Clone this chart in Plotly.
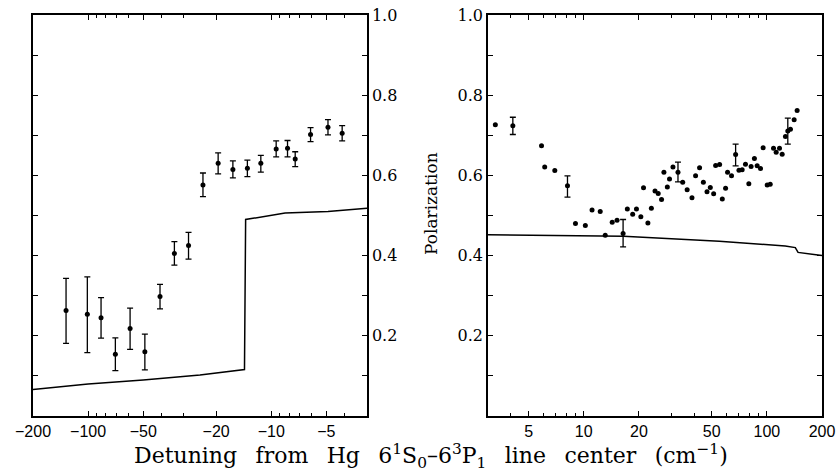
import numpy as np
import plotly.graph_objects as go

# ---------------- data ----------------
# Left panel (negative detuning, cm^-1)
left_x = [-132, -101, -85, -71, -59, -49, -40.5, -33.8, -28.3, -23.6, -19.5, -16.2,
          -13.5, -11.4, -9.4, -8.15, -7.4, -6.1, -4.9, -4.1]
left_y = [0.263, 0.254, 0.245, 0.154, 0.218, 0.160, 0.298, 0.405, 0.425, 0.576, 0.630, 0.615,
          0.618, 0.630, 0.666, 0.668, 0.641, 0.702, 0.720, 0.705]
left_hi = [0.343, 0.347, 0.295, 0.195, 0.269, 0.204, 0.328, 0.435, 0.458, 0.606, 0.656, 0.636,
           0.638, 0.650, 0.686, 0.687, 0.659, 0.719, 0.739, 0.724]
left_lo = [0.181, 0.158, 0.194, 0.113, 0.166, 0.115, 0.267, 0.376, 0.391, 0.547, 0.604, 0.594,
           0.597, 0.608, 0.646, 0.646, 0.622, 0.684, 0.701, 0.686]

left_theory_x = [-200, -100, -50, -24.5, -14.0, -13.8, -8.4, -4.9, -3.0]
left_theory_y = [0.066, 0.080, 0.090, 0.102, 0.116, 0.490, 0.506, 0.510, 0.518]

# Right panel (positive detuning, cm^-1)
right_x = [3.29, 5.88, 6.12, 6.95, 9.01, 10.2, 11.1, 12.3, 13.1, 14.3, 15.2, 17.3, 18.5,
           19.4, 20.5, 21.2, 22.4, 23.4, 24.5, 25.5, 26.6, 27.4, 28.6, 29.4, 30.7, 34.7,
           36.7, 39.0, 40.8, 42.9, 45.0, 47.1, 49.1, 51.2, 52.5, 55.2, 57.1, 59.5, 61.0,
           64.1, 70.4, 73.3, 76.4, 79.7, 82.0, 85.5, 88.5, 92.3, 95.4, 100.4, 104.3, 108.7,
           112.4, 117.2, 121.2, 126.3, 134.5, 140.9, 146.3]
right_y = [0.726, 0.674, 0.621, 0.612, 0.480, 0.475, 0.514, 0.510, 0.451, 0.483, 0.488, 0.516,
           0.503, 0.516, 0.497, 0.569, 0.481, 0.518, 0.561, 0.555, 0.540, 0.608, 0.571, 0.591,
           0.621, 0.583, 0.564, 0.544, 0.599, 0.619, 0.583, 0.559, 0.570, 0.554, 0.625, 0.627,
           0.541, 0.568, 0.608, 0.599, 0.613, 0.614, 0.628, 0.579, 0.622, 0.642, 0.624, 0.617,
           0.669, 0.576, 0.578, 0.668, 0.658, 0.668, 0.653, 0.697, 0.715, 0.739, 0.762]

right_err_x = [4.10, 8.15, 16.4, 32.7, 67.5, 130.1]
right_err_y = [0.724, 0.574, 0.455, 0.608, 0.652, 0.711]
right_err_hi = [0.745, 0.599, 0.490, 0.633, 0.678, 0.743]
right_err_lo = [0.702, 0.546, 0.422, 0.584, 0.624, 0.678]

right_theory_x = [3.0, 10, 16.5, 55, 126, 143, 148, 200]
right_theory_y = [0.452, 0.450, 0.448, 0.436, 0.424, 0.420, 0.408, 0.400]

y_ticks = [0.1, 0.2, 0.3, 0.4, 0.5, 0.6, 0.7, 0.8, 0.9, 1.0]
y_ticktext = ["", "0.2", "", "0.4", "", "0.6", "", "0.8", "", "1.0"]
left_xticks = [200, 100, 50, 20, 10, 5]
left_xticktext = ["\u2212200", "\u2212100", "\u221250", "\u221220", "\u221210", "\u22125"]
right_xticks = [5, 10, 20, 50, 100, 200]
right_xticktext = ["5", "10", "20", "50", "100", "200"]
minor_ticks = [3, 4, 6, 7, 8, 9, 30, 40, 60, 70, 80, 90]

# ---------------- figure ----------------
W, H = 840, 474
ml, mr, mt, mb = 0, 0, 15, 58
fig = go.Figure()

def arr(a):
    return np.asarray(a, dtype=float)

lx = -arr(left_x)
ly = arr(left_y)
fig.add_trace(go.Scatter(
    x=-arr(left_theory_x), y=left_theory_y, mode="lines",
    line=dict(color="black", width=1.5), xaxis="x", yaxis="y", showlegend=False))
fig.add_trace(go.Scatter(
    x=lx, y=ly, mode="markers",
    marker=dict(color="black", size=5),
    error_y=dict(type="data", symmetric=False, array=arr(left_hi) - ly,
                 arrayminus=ly - arr(left_lo), width=3, thickness=1.3, color="black"),
    xaxis="x", yaxis="y", showlegend=False))

ry = arr(right_err_y)
fig.add_trace(go.Scatter(
    x=right_theory_x, y=right_theory_y, mode="lines",
    line=dict(color="black", width=1.5), xaxis="x2", yaxis="y2", showlegend=False))
fig.add_trace(go.Scatter(
    x=right_x, y=right_y, mode="markers",
    marker=dict(color="black", size=5), xaxis="x2", yaxis="y2", showlegend=False))
fig.add_trace(go.Scatter(
    x=right_err_x, y=ry, mode="markers",
    marker=dict(color="black", size=5),
    error_y=dict(type="data", symmetric=False, array=arr(right_err_hi) - ry,
                 arrayminus=ry - arr(right_err_lo), width=3, thickness=1.3, color="black"),
    xaxis="x2", yaxis="y2", showlegend=False))

def px_to_x(p):
    return p / W

common_x = dict(type="log", showgrid=False, zeroline=False, showline=True, linecolor="black",
                linewidth=1.5, mirror="allticks", ticks="inside", ticklen=5, tickwidth=1,
                tickcolor="black", automargin=False,
                tickfont=dict(family="Liberation Sans, Arial, sans-serif", size=16, color="black"),
                minor=dict(tickvals=minor_ticks, ticks="inside", ticklen=3, tickwidth=1,
                           tickcolor="black", showgrid=False))
common_y = dict(range=[0, 1.0], showgrid=False, zeroline=False, showline=True, linecolor="black",
                linewidth=1.5, mirror="allticks", ticks="inside", ticklen=5, tickwidth=1,
                tickcolor="black", tickmode="array", tickvals=y_ticks, ticktext=y_ticktext,
                automargin=False,
                tickfont=dict(family="DejaVu Serif, serif", size=16, color="black"))

fig.update_layout(
    width=W, height=H,
    margin=dict(l=ml, r=mr, t=mt, b=mb, autoexpand=False),
    paper_bgcolor="white", plot_bgcolor="white",
    xaxis=dict(domain=[px_to_x(33), px_to_x(367)],
               range=[np.log10(200), np.log10(3)],
               tickmode="array", tickvals=left_xticks, ticktext=left_xticktext,
               anchor="y", **common_x),
    yaxis=dict(domain=[0, 1], side="right", anchor="x", **common_y),
    xaxis2=dict(domain=[px_to_x(488), px_to_x(822)],
                range=[np.log10(3), np.log10(200)],
                tickmode="array", tickvals=right_xticks, ticktext=right_xticktext,
                anchor="y2", **common_x),
    yaxis2=dict(domain=[0, 1], side="left", anchor="x2", **common_y),
)

plot_h = H - mt - mb
def py_to_paper(p):
    return (H - mb - p) / plot_h

gap = " \u00a0\u2009"
title = ("Detuning" + gap + "from" + gap + "Hg" + gap +
         "6<sup>1</sup>S<sub>0</sub>\u20136<sup>3</sup>P<sub>1</sub>" + gap +
         "line" + gap + "center" + gap + "(cm<sup>\u22121</sup>)")
fig.add_annotation(
    text=title,
    xref="paper", yref="paper", x=px_to_x(431), y=py_to_paper(456),
    xanchor="center", yanchor="middle", showarrow=False,
    font=dict(family="DejaVu Serif, serif", size=22, color="black"))
fig.add_annotation(
    text="Polarization", textangle=-90,
    xref="paper", yref="paper", x=px_to_x(431), y=py_to_paper(203),
    xanchor="center", yanchor="middle", showarrow=False,
    font=dict(family="DejaVu Serif, serif", size=17, color="black"))

fig.write_html("out.html", config={"displayModeBar": False},
               post_script="document.body.style.margin='0';document.body.style.padding='0';")
